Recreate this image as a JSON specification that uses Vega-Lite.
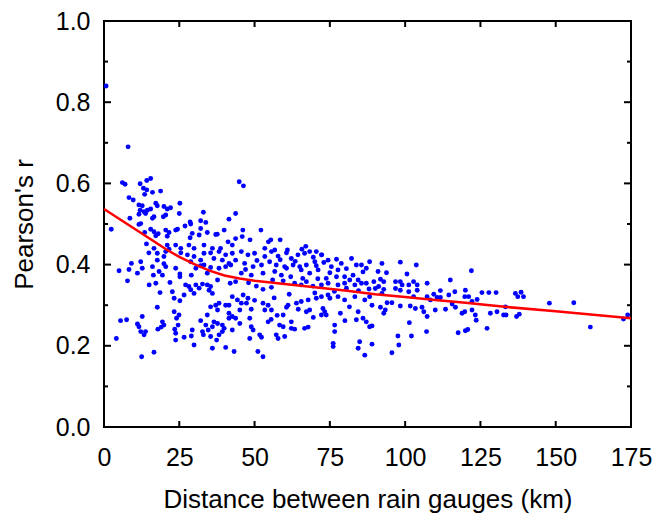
{
  "$schema": "https://vega.github.io/schema/vega-lite/v6.json",
  "width": 527,
  "height": 406,
  "autosize": {"type": "none"},
  "padding": {"left": 104, "top": 21, "right": 25, "bottom": 88},
  "background": "white",
  "config": {
    "view": {"stroke": "black", "strokeWidth": 2},
    "font": "Liberation Sans",
    "axis": {
      "domain": false,
      "grid": false,
      "labelColor": "black",
      "titleColor": "black",
      "tickColor": "black",
      "labelFontSize": 25,
      "titleFontSize": 26,
      "titleFontWeight": "normal",
      "labelFont": "Liberation Sans",
      "titleFont": "Liberation Sans",
      "labelFlush": false,
      "labelOverlap": false
    }
  },
  "datasets": {
    "yMajor": [{"v":0},{"v":0.2},{"v":0.4},{"v":0.6},{"v":0.8},{"v":1.0}],
    "yMinor": [{"v":0.1},{"v":0.3},{"v":0.5},{"v":0.7},{"v":0.9}],
    "xMajor": [{"v":25},{"v":50},{"v":75},{"v":100},{"v":125},{"v":150}],
    "pts": [
      {"d":0.7,"r":0.840},{"d":8.0,"r":0.690},{"d":44.9,"r":0.604},{"d":46.3,"r":0.594},
      {"d":6.1,"r":0.602},{"d":7.0,"r":0.598},{"d":12.0,"r":0.599},{"d":14.2,"r":0.607},{"d":15.5,"r":0.612},
      {"d":13.1,"r":0.588},{"d":14.2,"r":0.584},{"d":13.5,"r":0.573},{"d":16.1,"r":0.578},{"d":18.8,"r":0.581},
      {"d":8.3,"r":0.565},{"d":9.7,"r":0.559},
      {"d":11.6,"r":0.547},{"d":12.7,"r":0.545},{"d":12.0,"r":0.534},{"d":13.3,"r":0.530},{"d":13.8,"r":0.526},{"d":11.6,"r":0.524},{"d":14.4,"r":0.534},{"d":15.5,"r":0.537},
      {"d":17.2,"r":0.551},{"d":17.7,"r":0.545},{"d":16.6,"r":0.518},{"d":16.1,"r":0.514},
      {"d":19.9,"r":0.543},{"d":21.0,"r":0.537},{"d":22.1,"r":0.540},{"d":20.5,"r":0.522},{"d":19.7,"r":0.518},
      {"d":25.2,"r":0.551},{"d":25.0,"r":0.526},{"d":8.6,"r":0.514},{"d":12.2,"r":0.501},{"d":11.6,"r":0.499},{"d":2.4,"r":0.487},
      {"d":15.5,"r":0.487},{"d":16.6,"r":0.481},{"d":17.2,"r":0.471},{"d":13.5,"r":0.479},{"d":18.0,"r":0.476},
      {"d":20.5,"r":0.485},{"d":21.6,"r":0.479},{"d":21.0,"r":0.470},{"d":23.8,"r":0.485},{"d":24.4,"r":0.487},
      {"d":26.9,"r":0.495},{"d":28.6,"r":0.505},{"d":28.8,"r":0.500},{"d":33.0,"r":0.529},{"d":32.1,"r":0.508},{"d":33.8,"r":0.504},{"d":32.1,"r":0.489},{"d":29.3,"r":0.477},{"d":28.6,"r":0.466},{"d":31.6,"r":0.473},{"d":34.3,"r":0.479},{"d":37.1,"r":0.474},
      {"d":41.5,"r":0.512},{"d":43.7,"r":0.526},{"d":39.9,"r":0.485},{"d":37.6,"r":0.475},{"d":43.7,"r":0.464},{"d":41.2,"r":0.456},
      {"d":14.1,"r":0.451},{"d":16.6,"r":0.440},{"d":21.0,"r":0.448},{"d":23.8,"r":0.448},{"d":25.5,"r":0.440},{"d":21.6,"r":0.438},
      {"d":28.2,"r":0.448},{"d":29.9,"r":0.440},{"d":33.2,"r":0.448},{"d":36.0,"r":0.440},{"d":38.7,"r":0.440},{"d":42.6,"r":0.448},
      {"d":52.1,"r":0.485},{"d":54.6,"r":0.456},{"d":55.4,"r":0.461},{"d":58.5,"r":0.461},{"d":46.1,"r":0.485},{"d":48.5,"r":0.461},{"d":65.7,"r":0.438},{"d":72.3,"r":0.424},{"d":45.9,"r":0.469},
      {"d":53.4,"r":0.440},{"d":56.7,"r":0.436},{"d":60.9,"r":0.436},{"d":67.0,"r":0.445},{"d":70.5,"r":0.432},
      {"d":14.9,"r":0.429},{"d":17.7,"r":0.428},{"d":20.5,"r":0.432},{"d":25.5,"r":0.429},{"d":27.7,"r":0.424},{"d":29.9,"r":0.420},{"d":33.2,"r":0.428},{"d":35.4,"r":0.429},{"d":38.2,"r":0.432},{"d":40.4,"r":0.424},{"d":42.6,"r":0.428},{"d":43.7,"r":0.411},{"d":17.7,"r":0.411},{"d":19.9,"r":0.420},{"d":28.8,"r":0.407},{"d":32.1,"r":0.411},{"d":36.5,"r":0.415},{"d":39.3,"r":0.411},{"d":41.5,"r":0.403},
      {"d":5.0,"r":0.385},{"d":8.3,"r":0.388},{"d":9.1,"r":0.403},{"d":12.2,"r":0.407},{"d":11.1,"r":0.379},{"d":12.7,"r":0.391},{"d":16.4,"r":0.374},{"d":16.1,"r":0.395},{"d":18.3,"r":0.383},{"d":20.5,"r":0.395},{"d":19.9,"r":0.402},{"d":19.4,"r":0.374},{"d":23.8,"r":0.391},{"d":25.2,"r":0.377},{"d":25.2,"r":0.370},{"d":29.0,"r":0.374},{"d":30.5,"r":0.391},{"d":32.1,"r":0.397},{"d":33.2,"r":0.399},{"d":35.4,"r":0.393},{"d":34.3,"r":0.379},{"d":38.2,"r":0.391},{"d":37.7,"r":0.362},{"d":40.4,"r":0.395},{"d":42.1,"r":0.399},{"d":41.9,"r":0.354},{"d":43.7,"r":0.358},
      {"d":7.8,"r":0.360},{"d":15.0,"r":0.350},{"d":17.2,"r":0.354},{"d":18.6,"r":0.331},
      {"d":21.9,"r":0.356},{"d":27.1,"r":0.350},{"d":28.2,"r":0.346},{"d":28.8,"r":0.338},{"d":30.5,"r":0.350},{"d":31.6,"r":0.342},{"d":29.9,"r":0.329},{"d":32.7,"r":0.352},{"d":34.3,"r":0.350},{"d":35.4,"r":0.346},{"d":36.0,"r":0.329},{"d":34.9,"r":0.337},
      {"d":22.7,"r":0.333},{"d":23.3,"r":0.317},{"d":25.2,"r":0.311},{"d":26.6,"r":0.325},{"d":42.6,"r":0.321},
      {"d":35.4,"r":0.296},{"d":37.1,"r":0.300},{"d":38.2,"r":0.305},{"d":37.7,"r":0.288},{"d":40.4,"r":0.300},{"d":41.5,"r":0.300},{"d":41.5,"r":0.280},{"d":42.6,"r":0.272},{"d":44.3,"r":0.313},
      {"d":17.7,"r":0.295},{"d":23.3,"r":0.284},{"d":24.9,"r":0.276},{"d":24.1,"r":0.268},
      {"d":34.3,"r":0.276},{"d":32.1,"r":0.262},{"d":33.8,"r":0.251},{"d":36.5,"r":0.259},{"d":36.0,"r":0.247},{"d":37.7,"r":0.255},{"d":39.3,"r":0.251},{"d":39.9,"r":0.243},{"d":42.6,"r":0.239},{"d":41.5,"r":0.268},{"d":43.7,"r":0.268},{"d":34.6,"r":0.239},{"d":35.4,"r":0.223},{"d":38.2,"r":0.227},{"d":39.3,"r":0.235},
      {"d":5.5,"r":0.262},{"d":7.5,"r":0.264},{"d":11.1,"r":0.254},{"d":11.6,"r":0.247},{"d":12.7,"r":0.272},{"d":12.2,"r":0.235},{"d":13.3,"r":0.227},{"d":13.8,"r":0.235},
      {"d":17.9,"r":0.241},{"d":19.4,"r":0.259},{"d":19.9,"r":0.251},{"d":19.0,"r":0.246},
      {"d":23.5,"r":0.241},{"d":23.8,"r":0.231},{"d":24.6,"r":0.251},{"d":23.8,"r":0.214},{"d":26.6,"r":0.221},{"d":29.3,"r":0.239},{"d":29.0,"r":0.224},{"d":29.9,"r":0.202},{"d":32.7,"r":0.235},
      {"d":4.1,"r":0.218},{"d":12.5,"r":0.173},{"d":16.6,"r":0.184},{"d":36.0,"r":0.194},{"d":40.4,"r":0.196},{"d":43.2,"r":0.186},{"d":37.4,"r":0.214},{"d":33.0,"r":0.227},
      {"d":45.6,"r":0.432},{"d":47.8,"r":0.424},{"d":50.0,"r":0.428},{"d":53.4,"r":0.420},{"d":55.6,"r":0.432},{"d":57.8,"r":0.421},{"d":60.6,"r":0.429},{"d":62.2,"r":0.415},{"d":64.4,"r":0.424},{"d":66.6,"r":0.428},{"d":68.3,"r":0.432},{"d":72.2,"r":0.424},{"d":74.4,"r":0.411},{"d":77.2,"r":0.413},{"d":78.8,"r":0.403},{"d":82.2,"r":0.415},{"d":83.8,"r":0.399},{"d":85.5,"r":0.399},{"d":87.1,"r":0.391},{"d":88.2,"r":0.407},
      {"d":46.7,"r":0.403},{"d":49.5,"r":0.395},{"d":52.3,"r":0.399},{"d":55.0,"r":0.407},{"d":57.2,"r":0.399},{"d":60.0,"r":0.395},{"d":62.8,"r":0.399},{"d":65.0,"r":0.395},{"d":67.2,"r":0.399},{"d":70.0,"r":0.407},{"d":70.5,"r":0.397},{"d":75.5,"r":0.395},{"d":77.7,"r":0.387},{"d":79.9,"r":0.370},{"d":82.7,"r":0.374},{"d":84.4,"r":0.362},{"d":87.1,"r":0.354},
      {"d":45.6,"r":0.379},{"d":48.9,"r":0.374},{"d":52.8,"r":0.379},{"d":56.7,"r":0.383},{"d":58.9,"r":0.374},{"d":60.6,"r":0.391},{"d":65.5,"r":0.387},{"d":68.3,"r":0.379},{"d":71.1,"r":0.387},{"d":73.8,"r":0.366},{"d":77.2,"r":0.370},{"d":81.6,"r":0.362},
      {"d":50.6,"r":0.347},{"d":52.8,"r":0.339},{"d":55.6,"r":0.344},{"d":63.3,"r":0.354},{"d":65.5,"r":0.350},{"d":67.2,"r":0.358},{"d":69.4,"r":0.347},{"d":72.2,"r":0.350},{"d":74.4,"r":0.354},{"d":77.7,"r":0.350},{"d":79.9,"r":0.354},{"d":83.3,"r":0.350},{"d":85.5,"r":0.354},
      {"d":46.2,"r":0.325},{"d":47.8,"r":0.317},{"d":45.6,"r":0.305},{"d":47.3,"r":0.305},{"d":48.9,"r":0.290},{"d":52.8,"r":0.305},{"d":54.5,"r":0.300},{"d":53.4,"r":0.288},{"d":55.6,"r":0.288},{"d":61.1,"r":0.300},{"d":63.9,"r":0.305},{"d":65.5,"r":0.309},{"d":67.8,"r":0.313},{"d":70.5,"r":0.317},{"d":72.2,"r":0.321},{"d":74.4,"r":0.325},{"d":75.0,"r":0.317},{"d":77.7,"r":0.321},{"d":79.9,"r":0.313},{"d":83.3,"r":0.321},{"d":86.6,"r":0.313},{"d":88.2,"r":0.321},{"d":45.1,"r":0.288},{"d":60.6,"r":0.295},
      {"d":59.5,"r":0.276},{"d":62.2,"r":0.259},{"d":67.2,"r":0.284},{"d":68.3,"r":0.288},{"d":72.7,"r":0.292},{"d":73.3,"r":0.284},{"d":73.8,"r":0.276},{"d":72.2,"r":0.276},{"d":84.4,"r":0.284},{"d":83.8,"r":0.264},{"d":86.0,"r":0.268},{"d":87.1,"r":0.259},{"d":88.2,"r":0.247},{"d":48.4,"r":0.268},{"d":48.9,"r":0.247},{"d":49.5,"r":0.239},{"d":54.5,"r":0.259},{"d":58.3,"r":0.251},{"d":59.5,"r":0.247},{"d":62.2,"r":0.243},{"d":63.3,"r":0.241},{"d":66.6,"r":0.243},{"d":67.8,"r":0.246},{"d":45.1,"r":0.255},{"d":76.6,"r":0.251},{"d":76.6,"r":0.235},{"d":51.7,"r":0.227},{"d":52.3,"r":0.221},{"d":48.4,"r":0.218},{"d":57.2,"r":0.227},{"d":57.8,"r":0.218},{"d":60.0,"r":0.223},{"d":76.1,"r":0.206},{"d":76.1,"r":0.198},{"d":84.9,"r":0.210},{"d":84.4,"r":0.194},{"d":51.1,"r":0.186},{"d":52.8,"r":0.173},{"d":86.6,"r":0.177},
      {"d":58.5,"r":0.412},{"d":63.5,"r":0.408},{"d":69.5,"r":0.418},{"d":73.0,"r":0.405},{"d":80.5,"r":0.390},{"d":86.0,"r":0.382},{"d":75.0,"r":0.380},{"d":50.8,"r":0.410},{"d":47.0,"r":0.388},{"d":62.0,"r":0.370},{"d":71.0,"r":0.365},{"d":66.0,"r":0.366},{"d":56.0,"r":0.362},{"d":59.5,"r":0.360},{"d":48.0,"r":0.355},{"d":80.5,"r":0.342},{"d":84.5,"r":0.336},{"d":88.0,"r":0.340},{"d":61.5,"r":0.327},{"d":70.0,"r":0.330},{"d":76.5,"r":0.334},{"d":56.5,"r":0.318},{"d":50.0,"r":0.312},{"d":64.5,"r":0.290},{"d":81.5,"r":0.296},{"d":57.5,"r":0.275},{"d":69.5,"r":0.270},{"d":80.0,"r":0.262},{"d":55.5,"r":0.265},{"d":78.5,"r":0.280},
      {"d":92.3,"r":0.403},{"d":98.4,"r":0.406},{"d":103.7,"r":0.399},{"d":91.0,"r":0.383},{"d":93.8,"r":0.380},{"d":100.6,"r":0.377},{"d":122.0,"r":0.385},
      {"d":89.6,"r":0.358},{"d":91.8,"r":0.364},{"d":92.9,"r":0.358},{"d":91.2,"r":0.346},{"d":90.1,"r":0.341},{"d":92.9,"r":0.339},{"d":92.3,"r":0.329},{"d":96.8,"r":0.358},{"d":98.4,"r":0.358},{"d":99.0,"r":0.350},{"d":96.8,"r":0.341},{"d":98.4,"r":0.337},{"d":101.2,"r":0.350},{"d":101.2,"r":0.333},{"d":102.8,"r":0.358},{"d":104.0,"r":0.350},{"d":104.0,"r":0.337},{"d":107.3,"r":0.354},{"d":111.7,"r":0.336},{"d":109.5,"r":0.327},{"d":115.0,"r":0.362},{"d":116.5,"r":0.333},{"d":120.0,"r":0.337},{"d":119.8,"r":0.321},{"d":121.1,"r":0.321},{"d":125.5,"r":0.331},{"d":127.8,"r":0.331},{"d":130.2,"r":0.331},{"d":123.9,"r":0.314},{"d":122.2,"r":0.309},{"d":102.8,"r":0.321},{"d":107.3,"r":0.321},{"d":108.4,"r":0.313},{"d":110.6,"r":0.319},{"d":111.7,"r":0.319},{"d":114.5,"r":0.325},
      {"d":89.0,"r":0.300},{"d":91.8,"r":0.295},{"d":93.4,"r":0.288},{"d":94.0,"r":0.306},{"d":95.6,"r":0.306},{"d":98.4,"r":0.298},{"d":101.7,"r":0.298},{"d":103.4,"r":0.292},{"d":105.6,"r":0.295},{"d":106.2,"r":0.284},{"d":110.0,"r":0.288},{"d":113.4,"r":0.290},{"d":116.7,"r":0.295},{"d":115.6,"r":0.303},{"d":118.9,"r":0.280},{"d":119.8,"r":0.284},{"d":122.2,"r":0.288},{"d":123.3,"r":0.276},{"d":128.3,"r":0.280},{"d":130.5,"r":0.284},{"d":132.7,"r":0.276},{"d":133.3,"r":0.296},{"d":92.9,"r":0.280},
      {"d":89.0,"r":0.249},{"d":101.4,"r":0.257},{"d":107.3,"r":0.272},{"d":123.6,"r":0.263},{"d":89.0,"r":0.204},{"d":97.6,"r":0.224},{"d":97.9,"r":0.202},{"d":102.1,"r":0.224},{"d":107.1,"r":0.235},{"d":117.6,"r":0.232},{"d":120.0,"r":0.237},{"d":120.8,"r":0.240},{"d":127.2,"r":0.243},{"d":95.6,"r":0.183},
      {"d":136.6,"r":0.329},{"d":137.4,"r":0.321},{"d":138.5,"r":0.332},{"d":139.3,"r":0.321},{"d":133.5,"r":0.276},{"d":137.0,"r":0.272},{"d":137.9,"r":0.278},{"d":147.9,"r":0.305},{"d":156.0,"r":0.306},{"d":161.5,"r":0.246},{"d":172.5,"r":0.266},{"d":173.9,"r":0.276}
    ],
    "fit": [
      {"d":0,"r":0.537},{"d":5,"r":0.513},{"d":10,"r":0.489},{"d":15,"r":0.465},{"d":21,"r":0.436},{"d":25,"r":0.419},{"d":30,"r":0.401},{"d":35,"r":0.385},{"d":40,"r":0.373},{"d":45,"r":0.366},{"d":50,"r":0.360},{"d":60,"r":0.352},{"d":70,"r":0.344},{"d":80,"r":0.336},{"d":90,"r":0.327},{"d":100,"r":0.320},{"d":110,"r":0.313},{"d":120,"r":0.306},{"d":133,"r":0.296},{"d":150,"r":0.285},{"d":175,"r":0.268}
    ]
  },
  "layer": [
    {
      "data": {"name": "pts"},
      "mark": {"type": "circle", "size": 24, "color": "#0000ff", "opacity": 1},
      "encoding": {
        "x": {
          "field": "d", "type": "quantitative",
          "scale": {"domain": [0, 175], "nice": false, "zero": false},
          "axis": {
            "orient": "bottom",
            "values": [0, 25, 50, 75, 100, 125, 150, 175],
            "ticks": false,
            "labelPadding": 18,
            "title": "Distance between rain gauges (km)",
            "titlePadding": 16
          }
        },
        "y": {
          "field": "r", "type": "quantitative",
          "scale": {"domain": [0, 1], "nice": false},
          "axis": {
            "orient": "left",
            "values": [0, 0.2, 0.4, 0.6, 0.8, 1.0],
            "format": ".1f",
            "ticks": false,
            "labelPadding": 14,
            "title": "Pearson's r",
            "titlePadding": 18
          }
        }
      }
    },
    {
      "data": {"name": "fit"},
      "mark": {"type": "line", "color": "#ff0000", "strokeWidth": 2.5},
      "encoding": {
        "x": {"field": "d", "type": "quantitative"},
        "y": {"field": "r", "type": "quantitative"}
      }
    },
    {
      "data": {"name": "yMajor"},
      "mark": {"type": "point", "shape": "stroke", "size": 49, "xOffset": 3.5, "strokeWidth": 2, "color": "black", "opacity": 1, "filled": false},
      "encoding": {
        "x": {"datum": 0, "type": "quantitative"},
        "y": {"field": "v", "type": "quantitative"}
      }
    },
    {
      "data": {"name": "yMajor"},
      "mark": {"type": "point", "shape": "stroke", "size": 49, "xOffset": -3.5, "strokeWidth": 2, "color": "black", "opacity": 1, "filled": false},
      "encoding": {
        "x": {"datum": 175, "type": "quantitative"},
        "y": {"field": "v", "type": "quantitative"}
      }
    },
    {
      "data": {"name": "yMinor"},
      "mark": {"type": "point", "shape": "stroke", "size": 16, "xOffset": 2, "strokeWidth": 2, "color": "black", "opacity": 1, "filled": false},
      "encoding": {
        "x": {"datum": 0, "type": "quantitative"},
        "y": {"field": "v", "type": "quantitative"}
      }
    },
    {
      "data": {"name": "yMinor"},
      "mark": {"type": "point", "shape": "stroke", "size": 16, "xOffset": -2, "strokeWidth": 2, "color": "black", "opacity": 1, "filled": false},
      "encoding": {
        "x": {"datum": 175, "type": "quantitative"},
        "y": {"field": "v", "type": "quantitative"}
      }
    },
    {
      "data": {"name": "xMajor"},
      "mark": {"type": "point", "shape": "stroke", "angle": 90, "size": 36, "yOffset": -3, "strokeWidth": 2, "color": "black", "opacity": 1, "filled": false},
      "encoding": {
        "x": {"field": "v", "type": "quantitative"},
        "y": {"datum": 0, "type": "quantitative"}
      }
    },
    {
      "data": {"name": "xMajor"},
      "mark": {"type": "point", "shape": "stroke", "angle": 90, "size": 36, "yOffset": 3, "strokeWidth": 2, "color": "black", "opacity": 1, "filled": false},
      "encoding": {
        "x": {"field": "v", "type": "quantitative"},
        "y": {"datum": 1, "type": "quantitative"}
      }
    }
  ]
}
